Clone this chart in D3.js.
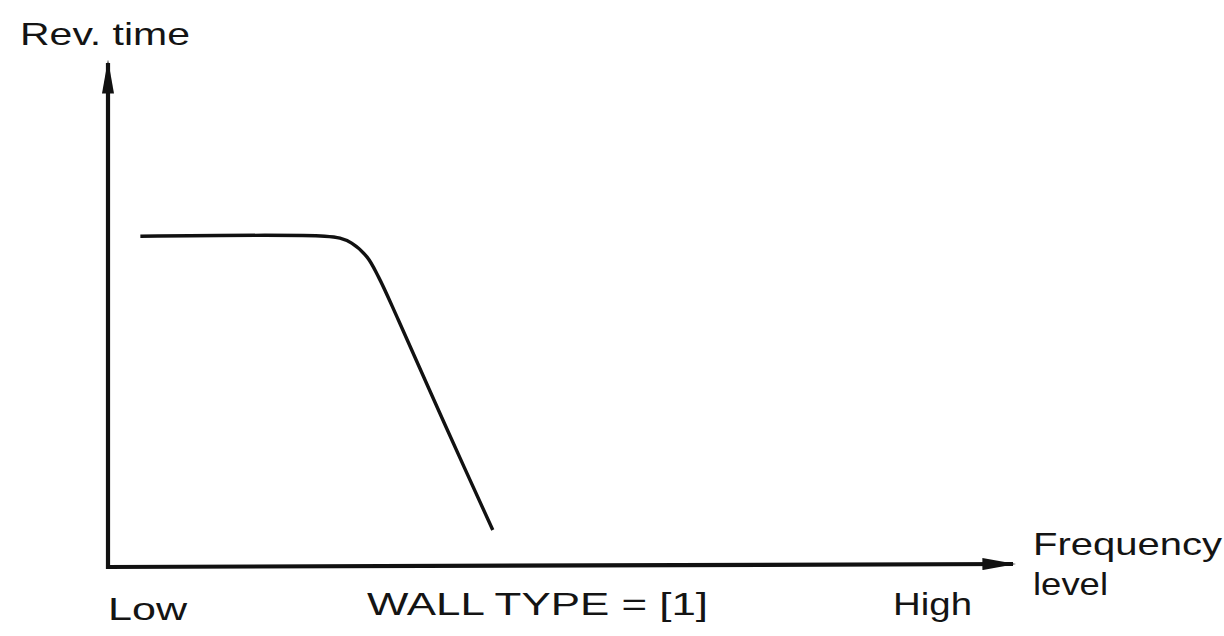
<!DOCTYPE html>
<html><head><meta charset="utf-8">
<script src="https://cdn.jsdelivr.net/npm/d3@7"></script>
<style>body{margin:0;background:#fff}svg{display:block}text{font-family:"Liberation Sans",Arial,sans-serif;fill:#141414}</style>
</head><body>
<script>
// Data (normalized: frequency 0..100, reverberation time 0..100)
const freq = [3.6, 24.1, 25.8, 27.1, 28.8, 30.1, 32.3, 37.5, 42.8];
const revTime = [67.1, 67.1, 66.7, 65.7, 62.9, 58.8, 50.1, 28.8, 7.5];
const xEndLabels = ["Low", "High"];
const yTitle = "Rev. time";
const xTitle = ["Frequency", "level"];
const caption = "WALL TYPE = [1]";

const W = 1224, H = 636;
const svg = d3.select("body").append("svg").attr("width", W).attr("height", H);
const x = d3.scaleLinear().domain([0, 100]).range([108, 1007]);
const y = d3.scaleLinear().domain([0, 100]).range([567, 74]);

const defs = svg.append("defs");
defs.append("marker").attr("id","arr").attr("viewBox","0 0 10 10").attr("refX",9).attr("refY",5)
  .attr("markerUnits","userSpaceOnUse").attr("markerWidth",34).attr("markerHeight",12).attr("orient","auto")
  .attr("preserveAspectRatio","none")
  .append("path").attr("d","M0,0 L10,5 L0,10 Z").attr("fill","#111");

// axes
svg.append("line").attr("x1", x(0)).attr("y1", y(0)+2).attr("x2", x(0)).attr("y2", 63)
  .attr("stroke","#111").attr("stroke-width",4.2).attr("marker-end","url(#arr)");
svg.append("line").attr("x1", x(0)-2).attr("y1", y(0)).attr("x2", 1013).attr("y2", y(0)-3)
  .attr("stroke","#111").attr("stroke-width",4.2).attr("marker-end","url(#arr)");

// curve
const data = freq.map((f,i)=>({f, r: revTime[i]}));
svg.append("path").datum(data)
  .attr("d", d3.line().x(d=>x(d.f)).y(d=>y(d.r)).curve(d3.curveCatmullRom.alpha(0.5)))
  .attr("fill","none").attr("stroke","#111").attr("stroke-width",3.4);

// texts
function label(t, x0, yb, len){
  svg.append("text").attr("x",x0).attr("y",yb).attr("font-size",32)
    .attr("textLength",len).attr("lengthAdjust","spacingAndGlyphs").text(t);
}
label(yTitle, 20, 45, 170);
label(xEndLabels[0], 108, 620, 79);
label(xEndLabels[1], 893, 615, 79);
label(caption, 367, 615, 341);
label(xTitle[0], 1033, 555, 189);
label(xTitle[1], 1033, 595, 75);
</script>
</body></html>
